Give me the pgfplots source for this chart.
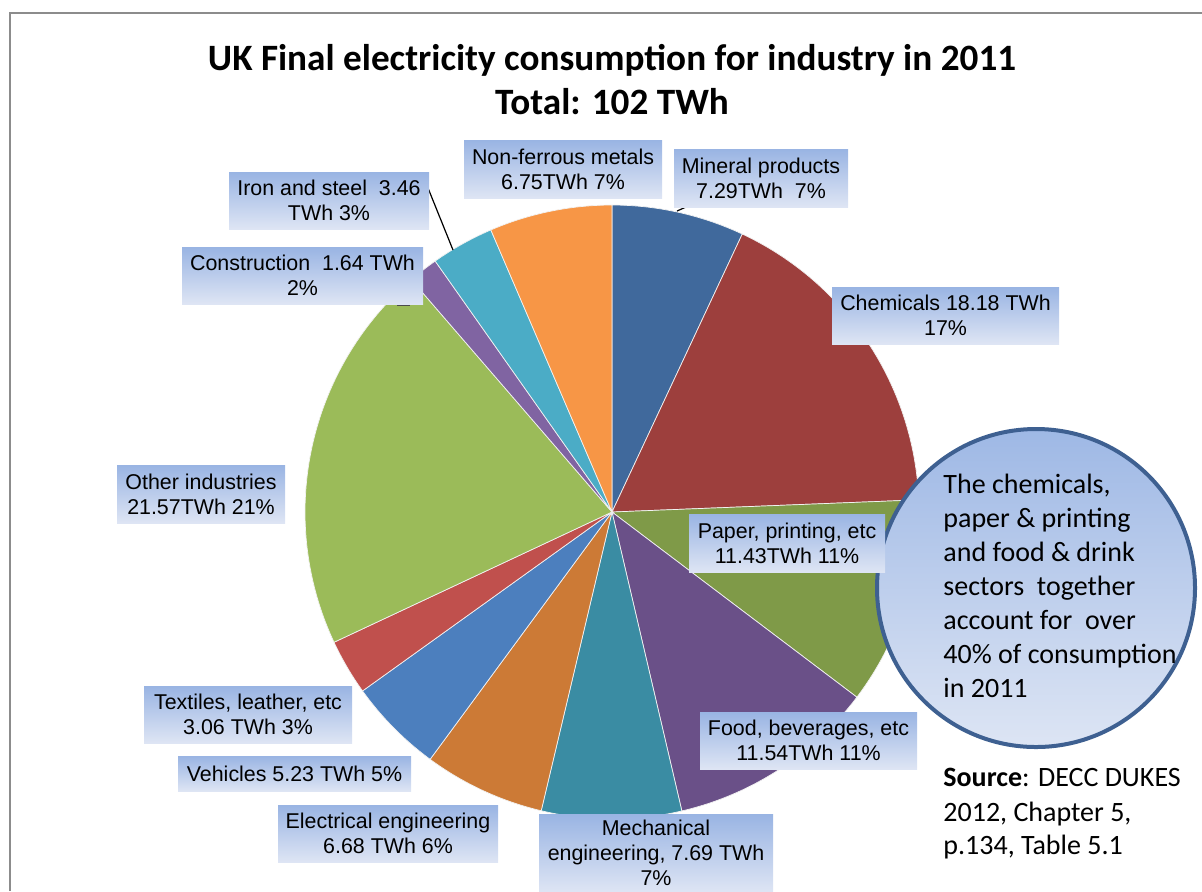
\documentclass[border=0pt]{standalone}
\usepackage{fontspec}
\setmainfont{Carlito}
\newfontfamily\arial{Liberation Sans}
\usepackage{pgfplots}
\pgfplotsset{compat=1.18}

\definecolor{cMin}{RGB}{64,105,156}
\definecolor{cChem}{RGB}{157,63,61}
\definecolor{cPap}{RGB}{127,154,72}
\definecolor{cFood}{RGB}{106,80,136}
\definecolor{cMech}{RGB}{58,140,163}
\definecolor{cElec}{RGB}{204,122,54}
\definecolor{cVeh}{RGB}{76,127,190}
\definecolor{cTex}{RGB}{192,80,77}
\definecolor{cOth}{RGB}{155,187,89}
\definecolor{cCon}{RGB}{128,100,162}
\definecolor{cIron}{RGB}{75,172,198}
\definecolor{cNon}{RGB}{247,150,70}
\definecolor{lbT}{RGB}{153,180,227}
\definecolor{lbB}{RGB}{222,229,244}
\definecolor{ciT}{RGB}{158,184,229}
\definecolor{ciB}{RGB}{221,229,244}
\definecolor{ciBorder}{RGB}{62,96,145}
\definecolor{frame}{RGB}{140,140,140}

% value (TWh) / colour, clockwise from 12 o'clock
\def\slices{7.29/cMin, 18.18/cChem, 11.43/cPap, 11.54/cFood, 7.69/cMech, 6.68/cElec, 5.23/cVeh, 3.06/cTex, 21.57/cOth, 1.64/cCon, 3.46/cIron, 6.75/cNon}

\newcommand\lbl[5]{\node[lbl, minimum width=#3*0.5pt, minimum height=#4*0.5pt] at (#1,#2) {#5};}

\begin{document}
\begin{tikzpicture}
\useasboundingbox (0pt,0pt) rectangle (601pt,-445.5pt);
\gdef\total{0}
\foreach \v/\c in \slices {\pgfmathparse{\total+\v}\xdef\total{\pgfmathresult}}
\begin{axis}[hide axis, scale only axis, width=307pt, height=307pt,
  xmin=-1, xmax=1, ymin=-1, ymax=1, clip=false,
  at={(306pt,-256pt)}, anchor=center]
\gdef\cum{0}
\foreach \v/\c in \slices {
  \pgfmathsetmacro\aS{90-\cum/\total*360}
  \pgfmathparse{\cum+\v}\xdef\cum{\pgfmathresult}
  \pgfmathsetmacro\aE{90-\cum/\total*360}
  \edef\tmp{\noexpand\addplot[fill=\c, draw=white!90!gray, line width=0.35pt, domain=\aE:\aS, samples=90] ({cos(x)},{sin(x)}) -- (axis cs:0,0) -- cycle;}
  \tmp
}
\end{axis}
\begin{scope}[x=0.5pt, y=-0.5pt]
\clip (0,0) rectangle (1202,891);
\draw[frame, line width=0.8pt] (10,891) -- (10,13) -- (1202,13);
% title
\node[anchor=base, font=\bfseries\fontsize{18.6}{22}\selectfont] at (612,70) {UK Final electricity consumption for industry in 2011};
\node[anchor=base, font=\bfseries\fontsize{18.6}{22}\selectfont] at (612,114) {Total: 102 TWh};
% leader lines
\draw[black, line width=0.6pt] (428,188) -- (453,250);
\draw[black, line width=0.6pt] (677,211) -- (686,207) -- (700,207);
\draw[black!70, line width=0.8pt] (397,305) -- (410,305);
% callout circle
\draw[line width=2pt, draw=ciBorder, top color=ciT, bottom color=ciB] (1036,588) circle (159);
\begin{scope}[every node/.style={anchor=base west, inner sep=0pt, font=\fontsize{14}{17}\selectfont}]
\node at (943,493) {The chemicals,};
\node at (943,527) {paper \& printing};
\node at (943,561) {and food \& drink};
\node at (943,595) {sectors\ \ together};
\node at (943,629) {account for\ \ over};
\node at (943,663) {40\% of consumption};
\node at (943,697) {in 2011};
\node at (943,786) {\textbf{Source}: DECC DUKES};
\node at (943,821) {2012, Chapter 5,};
\node at (943,854) {p.134, Table 5.1};
\end{scope}
% labels
\tikzset{lbl/.style={top color=lbT, bottom color=lbB, draw=none, inner sep=0pt, align=center,
  font=\arial\fontsize{10.7}{12.5}\selectfont}}
\lbl{329}{200.5}{200}{57}{Iron and steel\ \ 3.46\\TWh 3\%}
\lbl{302.5}{275.5}{241}{57}{Construction\ \ 1.64 TWh\\2\%}
\lbl{563}{169}{198}{58}{Non-ferrous metals\\6.75TWh 7\%}
\lbl{761}{178}{174}{58}{Mineral products\\7.29TWh\ \ 7\%}
\lbl{945.5}{315.5}{227}{57}{Chemicals 18.18 TWh\\17\%}
\lbl{787}{543}{196}{58}{Paper, printing, etc\\11.43TWh 11\%}
\lbl{808.5}{740.5}{217}{57}{Food, beverages, etc\\11.54TWh 11\%}
\lbl{656}{853}{234}{78}{Mechanical\\engineering, 7.69 TWh\\7\%}
\lbl{388}{833.5}{220}{57}{Electrical engineering\\6.68 TWh 6\%}
\lbl{294.5}{773.5}{233}{35}{Vehicles 5.23 TWh 5\%}
\lbl{248}{714.5}{208}{57}{Textiles, leather, etc\\3.06 TWh 3\%}
\lbl{201}{494}{168}{58}{Other industries\\21.57TWh 21\%}
\end{scope}
\end{tikzpicture}
\end{document}
